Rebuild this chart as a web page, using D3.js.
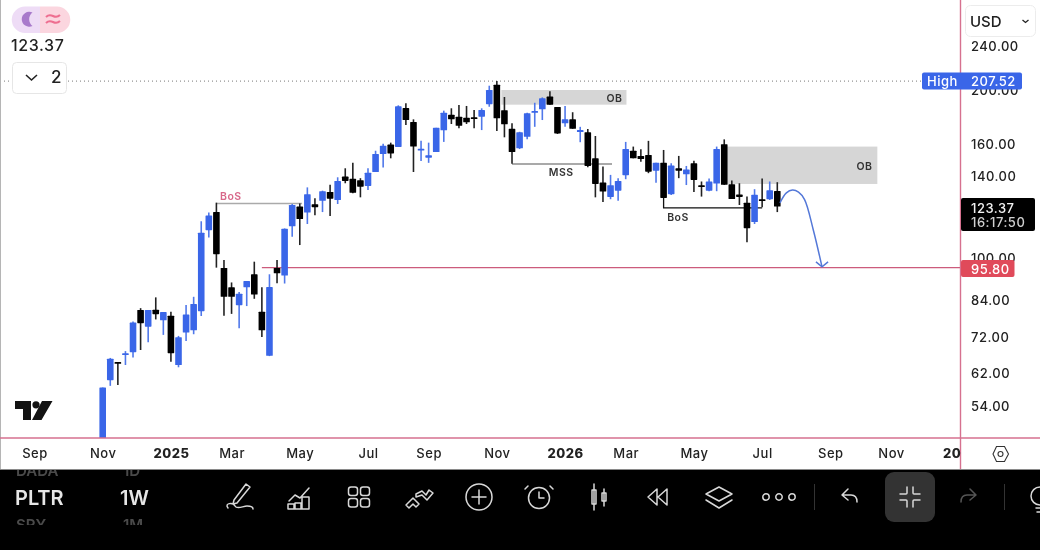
<!DOCTYPE html>
<html><head><meta charset="utf-8">
<script src="https://cdnjs.cloudflare.com/ajax/libs/d3/7.8.5/d3.min.js"></script>
<style>
html,body{margin:0;padding:0;background:#fff;overflow:hidden}
svg{display:block;font-family:Inter,"Noto Sans",sans-serif;filter:blur(0.45px)}
</style></head><body><svg id="c" width="1040" height="550"></svg>
<script>
const opens=[44,60.1,64.8,66.7,67.5,80.4,75.0,80.5,77.0,78.5,
64.0,73.2,73.9,80.0,111.9,120.7,95.7,88.3,82.0,88.3,
93.2,79.8,66.5,95.7,92.7,113.7,123.4,120.4,124.6,126.4,
131.1,126.8,139.7,138.4,137.6,134.4,142.4,153.4,159.5,158.0,
185.6,175.2,156.2,151.1,154.7,169.2,180.6,179.1,178.3,178.6,
179.1,188.6,204.5,183.9,170.3,157.1,164.7,182.1,184.6,194.6,
186.4,174.2,177.1,168.0,167.8,150.7,136.3,128.4,131.8,140.5,
155.5,152.2,152.8,143.2,147.9,129.9,144.6,141.0,147.6,134.8,
131.8,135.7,159.8,135.4,129.7,125.4,115.7,127.2,127.2,131.6];
const highs=[58.3,65.9,64.8,67.8,76.6,81.0,80.4,84.7,79.7,79.8,
72.2,82.1,84.9,116.1,120.4,125.4,98.9,90.1,86.6,90.6,
98.2,88.3,93.2,98.9,112.7,124.7,125.0,133.6,127.7,131.8,
135.0,139.3,144.6,147.9,138.8,144.6,155.5,160.0,160.8,187.7,
189.3,177.1,162.0,160.8,171.0,183.6,185.4,188.0,187.2,184.1,
185.4,203.6,207.52,194.3,174.2,168.2,182.1,189.7,194.0,198.9,
186.4,187.2,182.4,171.7,170.1,165.3,145.6,140.7,138.8,161.3,
158.2,156.5,162.0,147.9,156.0,147.6,152.2,146.0,149.2,136.9,
138.6,158.2,163.0,137.4,135.9,128.6,132.6,138.6,136.9,136.5];
const lows=[44,58.7,58.9,64.0,66.0,68.1,70.3,77.3,72.5,64.9,
63.4,70.7,72.7,78.4,108.6,95.8,78.5,79.1,74.5,81.7,
84.2,71.9,66.4,89.8,89.7,108.9,105.2,114.8,119.0,120.6,
118.7,124.7,135.9,130.4,128.2,132.2,142.4,145.0,150.7,158.0,
173.0,142.4,149.0,147.9,154.7,161.3,173.7,170.6,173.7,170.6,
169.4,186.6,168.7,164.4,147.3,156.6,163.0,171.7,176.6,188.2,
166.7,171.7,170.3,161.1,145.2,128.2,125.8,127.2,126.4,138.2,
150.7,148.6,141.7,136.2,127.9,129.5,138.8,134.9,131.0,128.6,
131.5,131.5,135.0,127.3,124.2,106.4,114.8,123.1,126.8,120.6];
const closes=[58.3,65.7,64.3,67.2,76.3,76.1,80.4,79.0,79.7,67.2,
71.8,78.9,82.4,110.7,118.9,101.3,84.9,84.9,86.0,90.6,
85.7,73.9,88.4,93.6,112.5,124.2,117.2,129.9,123.1,131.5,
127.5,137.2,137.2,130.6,134.0,142.0,153.4,158.7,153.8,186.9,
176.6,158.2,156.8,152.6,171.0,182.1,177.1,172.4,175.0,177.9,
184.1,200.0,177.9,173.5,154.7,167.8,181.6,183.3,193.2,188.2,
167.1,177.1,170.3,169.4,146.0,135.5,131.3,134.8,137.2,156.6,
150.7,150.2,142.6,147.9,127.9,146.2,143.2,143.8,137.8,133.8,
136.9,156.6,135.0,127.3,128.4,112.8,129.6,126.4,132.0,123.37];

const xTickIdx=[-9,0,9,17,26,35,43,52,61,69,78,87,96,104,112];
const xTickLabels=["Sep","Nov","2025","Mar","May","Jul","Sep","Nov","2026","Mar","May","Jul","Sep","Nov","20"];
const boldTicks=["2025","2026","20"];
const yTicks=[240,200,160,140,100,84,72,62,54];

const highPrice=207.52, lastPrice=123.37, targetPrice=95.80;
const obIdxA=[52.6,69.1], obPriceA=[200,188.2];
const obIdxB=[82,102.2], obPriceB=[158.2,135.5];
const mssIdx=[54,67.2], mssPrice=147.2;
const bosTopIdx=[15,26.3], bosTopPrice=125;
const bosLowIdx=[74,87], bosLowPrice=122.7, bosLowFrom=127.9;
const targetFromIdx=21;
const arrowIdx=[89.35,90.2,91.0,91.8,92.6,93.75,94.9], arrowPrice=[125.3,130.6,132.1,131,127,112,96.1];
const headIdxA=[94.1,94.9,95.7], headPriceA=[98.1,96.1,98.1];

const svg=d3.select("#c");
const BLUE="#3a66e8", PINK="#cc5b7c";
const x=d3.scaleLinear().domain([0,89]).range([102.7,777.3]);
const y=d3.scaleLog().domain([54,240]).range([406,46]);

svg.append("defs").append("clipPath").attr("id","plot").append("rect").attr("x",0).attr("y",0).attr("width",960).attr("height",438);

const plot=svg.append("g").attr("clip-path","url(#plot)");
[[obIdxA,obPriceA],[obIdxB,obPriceB]].forEach(([ix,pr])=>{
 plot.append("rect").attr("x",x(ix[0])).attr("width",x(ix[1])-x(ix[0])).attr("y",y(pr[0])).attr("height",y(pr[1])-y(pr[0])).attr("fill","#d6d6d6");
});
plot.append("line").attr("x1",0).attr("x2",922).attr("y1",y(highPrice)).attr("y2",y(highPrice)).attr("stroke","#777").attr("stroke-width",1).attr("stroke-dasharray","1 3");
plot.append("line").attr("x1",x(targetFromIdx)).attr("x2",960).attr("y1",y(targetPrice)).attr("y2",y(targetPrice)).attr("stroke",PINK).attr("stroke-width",1.4);
plot.append("line").attr("x1",x(bosTopIdx[0])).attr("x2",x(bosTopIdx[1])).attr("y1",y(bosTopPrice)).attr("y2",y(bosTopPrice)).attr("stroke","#aaa").attr("stroke-width",1.5);
plot.append("line").attr("x1",x(mssIdx[0])).attr("x2",x(mssIdx[1])).attr("y1",y(mssPrice)).attr("y2",y(mssPrice)).attr("stroke","#555").attr("stroke-width",1.2);
plot.append("path").attr("d",d3.line()([[x(bosLowIdx[0]),y(bosLowFrom)],[x(bosLowIdx[0]),y(bosLowPrice)],[x(bosLowIdx[1]),y(bosLowPrice)]])).attr("fill","none").attr("stroke","#111").attr("stroke-width",1.3);

const candles=opens.map((o,i)=>({i,o,h:highs[i],l:lows[i],c:closes[i]}));
const g=plot.selectAll("g.k").data(candles).join("g").attr("class","k");
const col=d=>d.c>=d.o?BLUE:"#000";
g.append("line").attr("x1",d=>x(d.i)).attr("x2",d=>x(d.i)).attr("y1",d=>y(d.h)).attr("y2",d=>y(d.l)).attr("stroke",d=>d.c>=d.o?"#5078ea":"#222").attr("stroke-width",1.6);
g.append("rect").attr("x",d=>x(d.i)-3.3).attr("width",6.6).attr("y",d=>y(Math.max(d.o,d.c))).attr("height",d=>Math.max(1.8,Math.abs(y(d.o)-y(d.c)))).attr("rx",0.6).attr("fill",col);

const aline=d3.line().x(d=>x(d[0])).y(d=>y(d[1])).curve(d3.curveCatmullRom);
plot.append("path").attr("d",aline(arrowIdx.map((v,i)=>[v,arrowPrice[i]]))).attr("fill","none").attr("stroke","#5478d8").attr("stroke-width",1.5);
plot.append("path").attr("d",d3.line().x(d=>x(d[0])).y(d=>y(d[1]))(headIdxA.map((v,i)=>[v,headPriceA[i]]))).attr("fill","none").attr("stroke","#5478d8").attr("stroke-width",1.5);

const note=(t,xx,yy,c,fs)=>svg.append("text").attr("x",xx).attr("y",yy).attr("text-anchor","middle").attr("dominant-baseline","central").attr("fill",c).attr("font-size",fs||10.5).attr("font-weight",600).attr("letter-spacing",0.5).text(t);
note("BoS",x(16.9),196,"#d8688a");
note("OB",614.5,98.5,"#333");
note("MSS",x(60.5),172.5,"#333");
note("OB",864.5,166,"#333");
note("BoS",x(75.9),217,"#333");

// TV logo
svg.append("path").attr("fill","#131313").attr("d","M15 401h16v19h-8v-11h-8zM42 401h10.500l-11 19h-9.500z");
svg.append("circle").attr("cx",36).attr("cy",404.800).attr("r",3.600).attr("fill","#131313");

svg.append("line").attr("x1",0.5).attr("x2",0.5).attr("y1",0).attr("y2",470).attr("stroke","#b5b5b5");
svg.append("line").attr("x1",0).attr("x2",1040).attr("y1",438).attr("y2",438).attr("stroke","#d6718f").attr("stroke-width",1.4);
svg.append("line").attr("x1",960.5).attr("x2",960.5).attr("y1",0).attr("y2",470).attr("stroke","#d6718f").attr("stroke-width",1.4);

const yAxis=d3.axisRight(y).tickValues(yTicks).tickFormat(d3.format(".2f")).tickSize(0).tickPadding(0);
const ya=svg.append("g").attr("transform","translate(971,0.7)").call(yAxis);
ya.select(".domain").remove();
ya.selectAll("text").attr("font-size",13).attr("font-weight",500).attr("fill","#222").attr("font-family","Inter").attr("letter-spacing",0.5);

const xAxis=d3.axisBottom(x).tickValues(xTickIdx).tickFormat((d,i)=>xTickLabels[i]).tickSize(0).tickPadding(0);
const xa=svg.append("g").attr("transform","translate(0,448.500)").call(xAxis);
xa.select(".domain").remove();
xa.selectAll("text").attr("font-size",13).attr("font-weight",(d,i)=>boldTicks.includes(xTickLabels[i])?800:500).attr("fill","#222").attr("font-family","Inter").attr("letter-spacing",0.5);

const tag=(px,w,yy,h,fill,r)=>svg.append("rect").attr("x",px).attr("y",yy).attr("width",w).attr("height",h).attr("rx",r||2).attr("fill",fill);
const lab=(t,px,yy,fill,fs)=>svg.append("text").attr("x",px).attr("y",yy).attr("dominant-baseline","central").attr("fill",fill).attr("font-size",fs||13).attr("font-weight",500).attr("letter-spacing",0.5).text(t);
tag(922,100,y(highPrice)-8.5,17,BLUE);
lab("High",927,y(highPrice),"#fff");
lab(d3.format(".2f")(highPrice),971,y(highPrice),"#fff");
tag(961,74,198,33,"#000");
lab(d3.format(".2f")(lastPrice),971,207.5,"#f2f2f2");
lab("16:17:50",971,222,"#d0d0d0");
tag(961,53.5,260,17,"#e04a5a");
lab(d3.format(".2f")(targetPrice),971,268.5,"#fff");

svg.append("path").attr("d","M40 6.5H25a13 13 0 0 0 0 26.500H40z").attr("fill","#eedcf6");
svg.append("path").attr("d","M40 6.500H57a13 13 0 0 1 0 26.500H40z").attr("fill","#fbd6df");
svg.append("path").attr("d","M32.500 12.500a7.500 7.500 0 1 0 0 13.500a8.500 8.500 0 0 1 0-13.500z").attr("fill","#a87acb");
svg.append("path").attr("d","M46 17q3-3 7 -1t7-1M46 23q3-3 7 -1t7-1").attr("fill","none").attr("stroke","#ee6f90").attr("stroke-width",2);
svg.append("text").attr("x",11).attr("y",51).attr("font-size",16).attr("font-weight",500).attr("fill","#222").attr("letter-spacing",0.6).text("123.37");
svg.append("rect").attr("x",12.500).attr("y",62.500).attr("width",54).attr("height",31).attr("rx",4).attr("fill","#fff").attr("stroke","#e6e6e6");
svg.append("path").attr("d","M26 75l5.500 5 5.500-5").attr("fill","none").attr("stroke","#222").attr("stroke-width",1.6);
svg.append("text").attr("x",51).attr("y",83).attr("font-size",17).attr("font-weight",500).attr("fill","#222").text("2");

svg.append("rect").attr("x",965.500).attr("y",5.500).attr("width",70).attr("height",31).attr("rx",5).attr("fill","#fff").attr("stroke","#ececec");
svg.append("text").attr("x",970).attr("y",27).attr("font-size",15).attr("font-weight",500).attr("fill","#222").text("USD");
svg.append("path").attr("d","M1022.500 20l3 2.500 3-2.500").attr("fill","none").attr("stroke","#222").attr("stroke-width",1.3);

svg.append("path").attr("d","M993 454l3.500-7.500h8l4 7.500-4 7.500h-8z").attr("fill","none").attr("stroke","#333").attr("stroke-width",1.1);
svg.append("circle").attr("cx",1000.500).attr("cy",454).attr("r",2.500).attr("fill","none").attr("stroke","#333").attr("stroke-width",1.1);

svg.append("rect").attr("x",0).attr("y",469.500).attr("width",1040).attr("height",80.500).attr("fill","#000");
svg.append("line").attr("x1",0).attr("x2",1040).attr("y1",469.500).attr("y2",469.500).attr("stroke","#8a8a8a").attr("stroke-width",1);
const tb=svg.append("g");
const tt=(t,px,yy,fs,fill,w)=>tb.append("text").attr("x",px).attr("y",yy).attr("font-size",fs).attr("font-weight",w||600).attr("fill",fill).text(t);
tb.append("clipPath").attr("id","wheel").append("rect").attr("x",0).attr("y",470).attr("width",200).attr("height",55);
const wheel=tb.append("g").attr("clip-path","url(#wheel)");
[["DADA",16,476],["1D",123,476],["SPY",16,530],["1M",123,530]].forEach(d=>wheel.append("text").attr("x",d[1]).attr("y",d[2]).attr("font-size",15).attr("font-weight",600).attr("fill","#4a4a4a").text(d[0]));
tt("PLTR",15,505,20,"#e6e6e6");
tt("1W",120,505,20,"#e6e6e6");
const ic=(cx,paths,stroke,sw)=>{const g=tb.append("g").attr("transform",`translate(${cx},497)`).attr("fill","none").attr("stroke",stroke||"#d8d8d8").attr("stroke-width",sw||1.5).attr("stroke-linecap","round").attr("stroke-linejoin","round");paths.forEach(p=>g.append("path").attr("d",p));return g;};
ic(240,["M-6 3L6-13 10-10-3 6-7 7zM-12 11c-4-5 5-6 7-2s8 0 12 0 6 1 6 3"]);
ic(299,["M-10 4l6-6 5 3 9-10M-11 12v-5h6v5zM-4 12v-6h6v6zM3 12v-12h7v12z"]);
const grid=ic(359,[]);[[-10.5,-10],[1.5,-10],[-10.5,1.5],[1.5,1.5]].forEach(p=>grid.append("rect").attr("x",p[0]).attr("y",p[1]).attr("width",9).attr("height",8.5).attr("rx",2.5));
ic(419,["M-13 8L-6 1 0 7 -3 10-6 7-10 11zM-3 0L3-2 8 3 14-4 10-7 7-2 3-6-3-3z"]);
ic(479,["M0-7V7M-7 0H7"]).append("circle").attr("r",13);
const al=ic(539,["M0-5V1H5M-11-11l-3 3M11-11l3 3"]);al.append("circle").attr("r",10.500).attr("cy",1);
ic(599,["M-5-13V13M-7-7h4v14h-4zM5-8V9M3-4h4v8h-4z"]);
ic(659,["M-2-8L-11 0-2 8zM8-8L-1 0 8 8z"]);
ic(719,["M0-10L13-3 0 4-13-3zM-13 3L0 11 13 3"]);
const dots=ic(779,[]);[-13,0,13].forEach(v=>dots.append("circle").attr("cx",v).attr("r",3.2));
tb.append("rect").attr("x",814).attr("y",484).attr("width",1).attr("height",26).attr("fill","#333");
tb.append("rect").attr("x",1004).attr("y",484).attr("width",1).attr("height",26).attr("fill","#333");
ic(849,["M-7-2L-1-8M-7-2L-1 3M-7-2H2c4 0 6 3 6 7"]);
tb.append("rect").attr("x",885).attr("y",472).attr("width",50).attr("height",50).attr("rx",9).attr("fill","#333");
ic(910,["M-10-3H-4a1 1 0 0 0 1-1V-10M10-3H4a1 1 0 0 1-1-1V-10M-10 3H-4a1 1 0 0 1 1 1V10M10 3H4a1 1 0 0 0-1 1V10"]);
ic(969,["M7-2L1-8M7-2L1 3M7-2H-2c-4 0-6 3-6 7"],"#555");
const bulb=ic(1040,["M-4 11H4M-3 15H3"]);bulb.append("circle").attr("cy",-1).attr("r",9);
</script></body></html>
